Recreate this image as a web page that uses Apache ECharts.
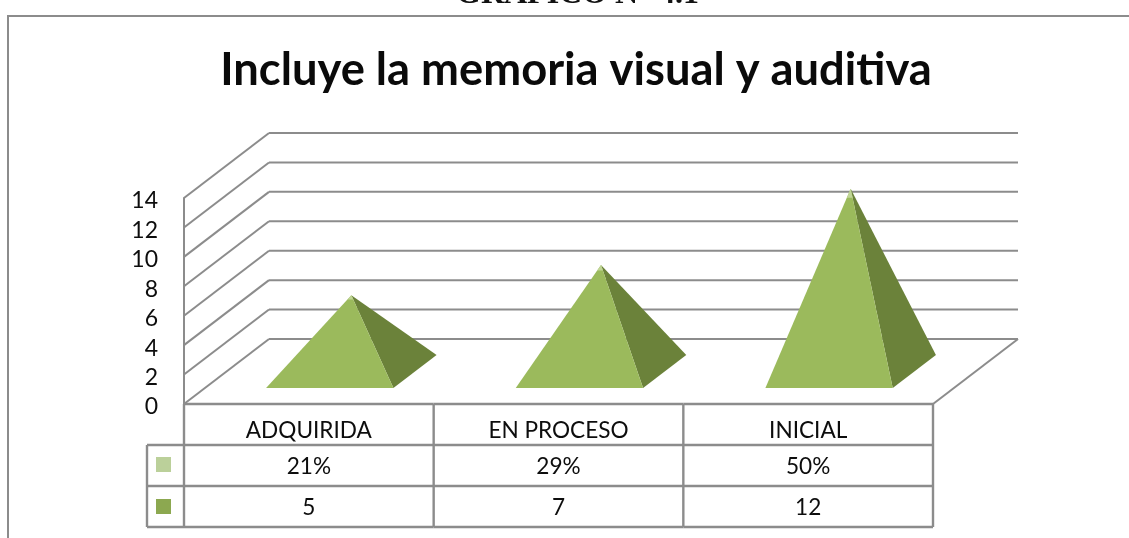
<!DOCTYPE html>
<html><head><meta charset="utf-8">
<style>html,body{margin:0;padding:0;background:#fff}#c{width:1129px;height:538px}</style>
<script src="https://cdn.jsdelivr.net/npm/echarts@6/dist/echarts.min.js"></script>
</head><body><div id="c"></div>
<script>
const categories = ['ADQUIRIDA','EN PROCESO','INICIAL'];
const percentRow = ['21%','29%','50%'];
const values = [5,7,12];
const gridTicks = [0,2,4,6,8,10,12,14];

const DX = 85, DY = -65, GRAY = '#8c8c8c', TEXT = '#0d0d0d', FONT = 'Lato';
const chart = echarts.init(document.getElementById('c'), null, {renderer:'canvas'});

function line(x1,y1,x2,y2,w){
  return {type:'line',shape:{x1,y1,x2,y2},style:{stroke:GRAY,lineWidth:w||2,fill:null},silent:true};
}
function poly(points,fill){
  return {type:'polygon',shape:{points},style:{fill,stroke:null},silent:true};
}
function text(x,y,t){
  return {type:'text',x,y,style:{text:t,fill:TEXT,font:'22.6px '+FONT,textAlign:'center',textVerticalAlign:'middle'},silent:true};
}

function renderWalls(params,api){
  const v = api.value(0);
  const p = api.coord([0,v]);
  const cs = params.coordSys;
  const x0 = cs.x, x1 = cs.x+cs.width;
  const kids = [line(x0,p[1],x0+DX,p[1]+DY), line(x0+DX,p[1]+DY,x1+DX,p[1]+DY)];
  if(v===0){
    kids.push(line(x1,p[1],x1+DX,p[1]+DY));
  }
  return {type:'group',children:kids};
}

function renderPyramid(params,api){
  const c = api.coord([api.value(0),0]);
  const band = api.size([1,0])[0];
  const h = api.size([0,api.value(1)])[1]*1.035;
  const half = band*0.255, f1 = 0.246, f2 = 0.754, fm = 0.5;
  const y = c[1];
  const fl = [c[0]-half+f1*DX, y+f1*DY], fr = [c[0]+half+f1*DX, y+f1*DY];
  const br = [c[0]+half+f2*DX, y+f2*DY];
  const apex = [c[0]+fm*DX, y+fm*DY-h];
  const t = 0.045;
  const lerp = (a,b)=>[a[0]+(b[0]-a[0])*t, a[1]+(b[1]-a[1])*t];
  return {type:'group',children:[
    poly([apex,fr,br],'#6b823a'),
    poly([apex,fl,fr],'#9bba5c'),
    poly([apex,lerp(apex,fl),lerp(apex,fr)],'#c0d596')
  ]};
}

function renderTable(params,api){
  const i = api.value(0);
  const c = api.coord([i,0]);
  const band = api.size([1,0])[0];
  const y0 = c[1], r1 = y0+41, r2 = y0+82, r3 = y0+123;
  const xl = c[0]-band/2, xr = c[0]+band/2;
  const kids = [
    line(xl,y0,xr,y0,2.4), line(xl,r1,xr,r1,2.4), line(xl,r2,xr,r2,2.4), line(xl,r3,xr,r3,2.4),
    line(xr,y0,xr,r3,2.4),
    text(c[0],r1-14,categories[i]), text(c[0],r1+22,percentRow[i]), text(c[0],r2+22,String(values[i]))
  ];
  if(i===0){
    kids.push(line(xl,y0,xl,r3,2.4), line(xl-37,r1,xl,r1,2.4), line(xl-37,r2,xl,r2,2.4), line(xl-37,r3,xl,r3,2.4), line(xl-37,r1,xl-37,r3,2.4));
    kids.push({type:'rect',shape:{x:xl-28,y:r1+12,width:15,height:15},style:{fill:'#bbd09a'},silent:true});
    kids.push({type:'rect',shape:{x:xl-28,y:r2+13,width:15,height:15},style:{fill:'#8ca850'},silent:true});
  }
  return {type:'group',children:kids};
}

chart.setOption({
  animation:false,
  backgroundColor:'#fff',
  title:[{text:'Incluye la memoria visual y auditiva',left:571,top:43,textAlign:'center',
    textStyle:{fontFamily:FONT,fontWeight:'bold',fontSize:45.3,color:'#0a0a0a'}}],
  grid:{left:184,right:196,top:198,bottom:134},
  xAxis:{type:'category',data:categories,axisLine:{show:false},axisTick:{show:false},axisLabel:{show:false}},
  yAxis:{type:'value',min:0,max:14,interval:2,
    axisLine:{show:true,lineStyle:{color:GRAY,width:2}},axisTick:{show:false},splitLine:{show:false},
    axisLabel:{color:TEXT,fontFamily:FONT,fontSize:23,margin:26,align:'right',verticalAlign:'top',lineHeight:6}},
  series:[
    {type:'custom',name:'walls',renderItem:renderWalls,data:gridTicks.map(v=>[v]),encode:{y:0},clip:false,z:1},
    {type:'custom',name:'pyramids',renderItem:renderPyramid,data:values.map((v,i)=>[i,v]),encode:{x:0,y:1},clip:false,z:3},
    {type:'custom',name:'table',renderItem:renderTable,data:categories.map((c,i)=>[i]),encode:{x:0},clip:false,z:2}
  ],
  graphic:[
    {type:'text',left:456,top:-21,style:{text:'GRAFICO N° 4.1',fill:'#111',font:'bold 32px "Liberation Serif"'}},
    {type:'polyline',shape:{points:[[8,540],[8,16],[1131,16]]},style:{stroke:GRAY,lineWidth:2,fill:null}}
  ]
});
</script></body></html>
